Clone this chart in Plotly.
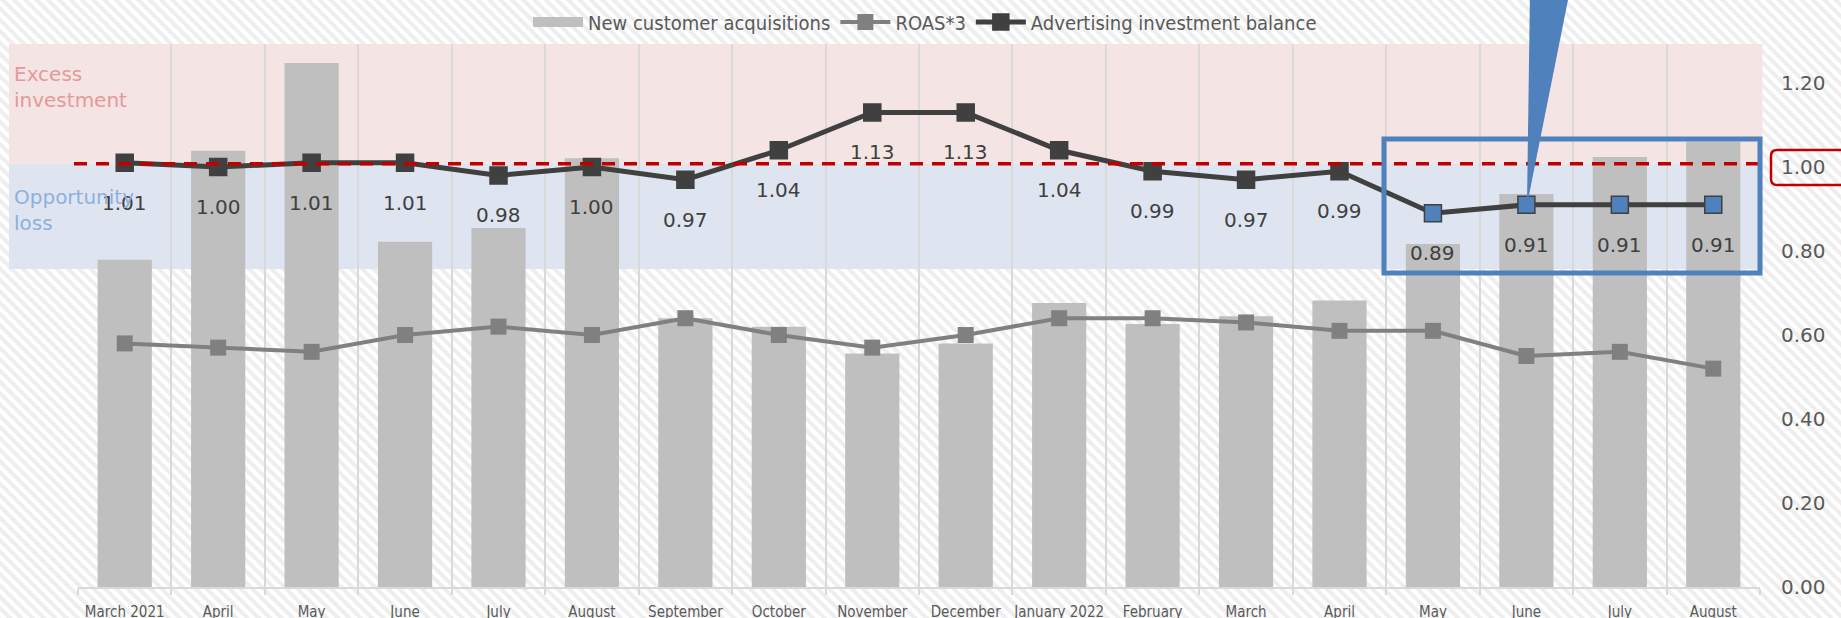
import base64
import plotly.graph_objects as go

# ---------------- data ----------------
months = ["March 2021", "April", "May", "June", "July", "August", "September",
          "October", "November", "December", "January 2022", "February", "March",
          "April", "May", "June", "July", "August"]
new_customers = [779, 1039, 1248, 822, 855, 1021, 640, 620, 556, 580, 676, 626,
                 645, 682, 817, 936, 1024, 1060]
roas_x3 = [0.58, 0.57, 0.56, 0.60, 0.62, 0.60, 0.64, 0.60, 0.57, 0.60, 0.64, 0.64,
           0.63, 0.61, 0.61, 0.55, 0.56, 0.52]
ad_balance = [1.01, 1.00, 1.01, 1.01, 0.98, 1.00, 0.97, 1.04, 1.13, 1.13, 1.04, 0.99,
              0.97, 0.99, 0.89, 0.91, 0.91, 0.91]
highlight_from = 14          # last four months highlighted
threshold = 1.008            # balance line
opp_floor = 0.757            # bottom of "opportunity loss" band
y2_max = 1.293
bar_max = 1293
right_ticks = [0.0, 0.2, 0.4, 0.6, 0.8, 1.0, 1.2]

# ---------------- geometry helpers ----------------
W, H = 1841, 618
ML, MR, MT, MB = 78, 81, 44, 31
PW, PH = W - ML - MR, H - MT - MB
def px_x(px):
    return (px - ML) / PW
def px_y(py):
    return (H - MB - py) / PH

x = list(range(len(months)))

DARK = "#404040"
BLUE = "#4F81BD"
RED = "#C00000"
TXT = "#595959"

fig = go.Figure()
fig.add_trace(go.Bar(x=x, y=new_customers, name="New customer acquisitions",
                     marker=dict(color="#BFBFBF", line=dict(width=0)), yaxis="y",
                     showlegend=False))
# legend proxy for the bar series (wide box symbol)
fig.add_trace(go.Scatter(x=[None], y=[None], name="New customer acquisitions", mode="lines",
                         line=dict(color="#BFBFBF", width=13), yaxis="y"))
fig.add_trace(go.Scatter(x=x, y=roas_x3, name="ROAS*3", mode="lines+markers",
                         line=dict(color="#808080", width=4),
                         marker=dict(symbol="square", size=16, color="#808080"),
                         yaxis="y2"))
mcolors = [DARK if i < highlight_from else BLUE for i in range(len(x))]
fig.add_trace(go.Scatter(x=x, y=ad_balance, name="Advertising investment balance",
                         mode="lines+markers",
                         line=dict(color=DARK, width=5),
                         marker=dict(symbol="square", size=17, color=mcolors,
                                     line=dict(color=DARK, width=1.5)),
                         yaxis="y2"))

# stripes background
svg = ("<svg xmlns='http://www.w3.org/2000/svg' width='%d' height='%d'>"
       "<defs><pattern id='p' patternUnits='userSpaceOnUse' width='8' height='8' "
       "patternTransform='rotate(-45)'><rect width='4' height='8' fill='#eeeeee'/></pattern></defs>"
       "<rect width='100%%' height='100%%' fill='#ffffff'/>"
       "<rect width='100%%' height='100%%' fill='url(#p)'/></svg>") % (W, H)
src = "data:image/svg+xml;base64," + base64.b64encode(svg.encode()).decode()

shapes = []
# bands
shapes.append(dict(type="rect", xref="paper", yref="paper", x0=px_x(9), x1=1.0015,
                   y0=threshold / y2_max, y1=1.0, fillcolor="#F5E4E4",
                   line=dict(width=0), layer="below"))
shapes.append(dict(type="rect", xref="paper", yref="paper", x0=px_x(9), x1=1.0015,
                   y0=opp_floor / y2_max, y1=threshold / y2_max, fillcolor="#DFE5F0",
                   line=dict(width=0), layer="below"))
# dashed threshold
shapes.append(dict(type="line", xref="paper", yref="paper", x0=px_x(74), x1=1.0,
                   y0=threshold / y2_max, y1=threshold / y2_max,
                   line=dict(color=RED, width=3.5, dash="13px,9px"), layer="above"))
# highlight box
shapes.append(dict(type="rect", xref="paper", yref="paper", x0=px_x(1384), x1=px_x(1760),
                   y0=px_y(273), y1=px_y(139), line=dict(color=BLUE, width=5),
                   fillcolor="rgba(0,0,0,0)", layer="above"))
# callout tail
tip_x, tip_y = px_x(1527), px_y(205)
shapes.append(dict(type="path", xref="paper", yref="paper",
                   path="M %f %f L %f %f L %f %f Z" % (px_x(1530), px_y(-10), px_x(1570), px_y(-10), tip_x, tip_y),
                   fillcolor=BLUE, line=dict(width=0), layer="above"))
# red rounded box around 1.00
x0, x1, y0, y1 = px_x(1771), px_x(1860), px_y(185), px_y(150)
rx, ry = 6 / PW, 6 / PH
path = ("M %f %f L %f %f Q %f %f %f %f L %f %f Q %f %f %f %f L %f %f" %
        (x1, y1, x0 + rx, y1, x0, y1, x0, y1 - ry, x0, y0 + ry, x0, y0, x0 + rx, y0, x1, y0))
shapes.append(dict(type="path", xref="paper", yref="paper", path=path,
                   line=dict(color=RED, width=2.5), layer="above"))

annotations = []
for xi, v in zip(x, ad_balance):
    annotations.append(dict(x=xi, y=v, xref="x", yref="y2", text="%.2f" % v,
                            showarrow=False, yshift=-40,
                            font=dict(family="DejaVu Sans", size=20, color=DARK)))
annotations.append(dict(xref="paper", yref="paper", x=px_x(12), y=px_y(87),
                        xanchor="left", yanchor="middle", align="left",
                        text="Excess<br>investment", showarrow=False,
                        font=dict(family="DejaVu Sans", size=20, color="#E39A9A")))
annotations.append(dict(xref="paper", yref="paper", x=px_x(12), y=px_y(210),
                        xanchor="left", yanchor="middle", align="left",
                        text="Opportunity<br>loss", showarrow=False,
                        font=dict(family="DejaVu Sans", size=20, color="#8EB0DC")))

fig.update_layout(
    width=W, height=H, autosize=False,
    margin=dict(l=ML, r=MR, t=MT, b=MB, pad=0, autoexpand=False),
    paper_bgcolor="white", plot_bgcolor="rgba(0,0,0,0)",
    font=dict(family="DejaVu Sans", color=TXT),
    bargap=0.42,
    showlegend=True,
    legend=dict(orientation="h", x=px_x(925), xanchor="center", y=px_y(22), yanchor="middle",
                bgcolor="rgba(0,0,0,0)", font=dict(family="DejaVu Sans Condensed", size=20, color=TXT),
                itemwidth=50, tracegroupgap=0),
    xaxis=dict(range=[-0.5, len(x) - 0.5], tickmode="array", tickvals=x, ticktext=months,
               showgrid=False, zeroline=False, ticks="", ticklabelstandoff=10,
               showline=True, linecolor="#D9D9D9", linewidth=2,
               tickfont=dict(family="DejaVu Sans Condensed", size=15, color=TXT),
               minor=dict(tick0=0.5, dtick=1, showgrid=True, gridcolor="#D9D9D9", gridwidth=1.5,
                          ticks="outside", ticklen=6, tickcolor="#D9D9D9", tickwidth=1.5)),
    yaxis=dict(range=[0, bar_max], visible=False, showgrid=False, zeroline=False),
    yaxis2=dict(range=[0, y2_max], overlaying="y", side="right", tickmode="array",
                tickvals=right_ticks, tickformat=".2f", showgrid=False, zeroline=False,
                showline=False, ticks="", ticklabelstandoff=20,
                tickfont=dict(family="DejaVu Sans", size=20, color=TXT)),
    shapes=shapes, annotations=annotations,
    images=[dict(source=src, xref="paper", yref="paper", x=-ML / PW, y=1 + MT / PH,
                 sizex=W / PW, sizey=H / PH, xanchor="left", yanchor="top",
                 sizing="stretch", layer="below")],
)

fig.write_html("out.html", config={"displayModeBar": False},
               post_script="document.body.style.margin='0px';document.body.style.overflow='hidden';")
